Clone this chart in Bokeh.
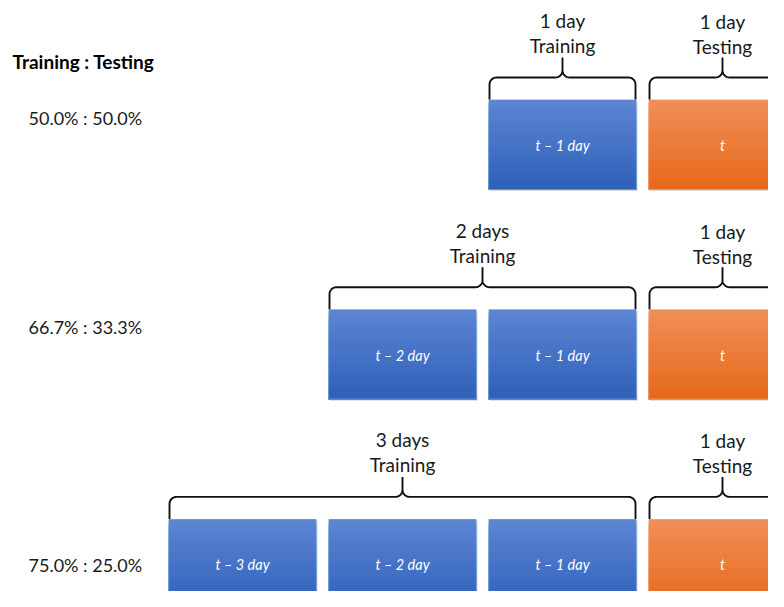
import numpy as np
from bokeh.plotting import figure
from bokeh.models import Range1d
from bokeh.core.properties import value
from bokeh.embed import file_html
from bokeh.resources import INLINE

# ---------------- data ----------------
header = "Training : Testing"
ratio_labels = ["50.0% : 50.0%", "66.7% : 33.3%", "75.0% : 25.0%"]
train_days = [1, 2, 3]
test_days = [1, 1, 1]
train_titles = ["1 day", "2 days", "3 days"]
test_titles = ["1 day", "1 day", "1 day"]
train_word = "Training"
test_word = "Testing"
day_offsets = [-3, -2, -1, 0]          # t-3 .. t
day_labels = ["t – 3 day", "t – 2 day", "t – 1 day", "t"]

# ---------------- layout / style ----------------
FONT = "Lato"
W, H = 768, 591
PX_PER_DAY = 160.0                     # horizontal pitch of one day box
T_CENTER_PX = 722.0                    # x of the "t" box centre
BOX_FRAC = 148.0 / 160.0               # box width as a fraction of the pitch
ROW_TOP0, ROW_PITCH, BOX_H = 99.0, 209.7, 90.0
RATIO_Y = [117, 326, 564]
BLUE_TOP, BLUE_BOT = (93, 134, 210), (46, 96, 186)
ORNG_TOP, ORNG_BOT = (240, 143, 88), (230, 104, 26)

# x in "day" units, y in pixels (inverted)
x0 = (0 - T_CENTER_PX) / PX_PER_DAY
x_range = Range1d(x0, x0 + W / PX_PER_DAY)
y_range = Range1d(H, 0)

p = figure(width=W, height=H, x_range=x_range, y_range=y_range,
           output_backend="svg", toolbar_location=None,
           min_border=0, min_border_left=0, min_border_right=0,
           min_border_top=0, min_border_bottom=0)
p.axis.visible = False
p.grid.visible = False
p.outline_line_color = None
p.background_fill_color = "white"
p.border_fill_color = "white"

px = 1.0 / PX_PER_DAY  # one pixel in x data units
half = BOX_FRAC / 2.0


def hexc(c):
    return "#%02x%02x%02x" % tuple(int(round(v)) for v in c)


def gradient_box(xc, ytop, c_top, c_bot, n=30):
    l, r, t, b, cols = [], [], [], [], []
    for i in range(n):
        f = (i + 0.5) / n
        col = [c_top[k] + (c_bot[k] - c_top[k]) * f for k in range(3)]
        l.append(xc - half)
        r.append(xc + half)
        t.append(ytop + BOX_H * i / n)
        b.append(ytop + BOX_H)          # overlap to the bottom: no seams
        cols.append(hexc(col))
    return l, r, t, b, cols


def brace(xl, xr, xc, yh, ybot, ytip, rx=7 * px, ry=7):
    th = np.linspace(0, np.pi / 2, 10)
    xs, ys = [], []
    xs += [xl]; ys += [ybot]
    xs += list(xl + rx - rx * np.cos(th)); ys += list(yh + ry - ry * np.sin(th))
    xs += list(xc - rx + rx * np.sin(th)); ys += list(yh - ry + ry * np.cos(th))
    xs += [xc]; ys += [ytip]
    xs += list(xc + rx - rx * np.sin(th[::-1])); ys += list(yh - ry + ry * np.cos(th[::-1]))
    xs += list(xr - rx + rx * np.cos(th[::-1])); ys += list(yh + ry - ry * np.sin(th[::-1]))
    xs += [xr]; ys += [ybot]
    return xs, ys


L, R, T, B, C = [], [], [], [], []
bx, by, btxt = [], [], []
outline = dict(l=[], r=[], t=[], b=[])
for i in range(len(ratio_labels)):
    ytop = ROW_TOP0 + ROW_PITCH * i
    nd = train_days[i]
    days = day_offsets[len(day_offsets) - 1 - nd:len(day_offsets) - 1] + [day_offsets[-1]]
    labs = day_labels[len(day_labels) - 1 - nd:len(day_labels) - 1] + [day_labels[-1]]
    for d, lab in zip(days, labs):
        if d < 0:
            l, r, t, b, cols = gradient_box(d, ytop, BLUE_TOP, BLUE_BOT)
        else:
            l, r, t, b, cols = gradient_box(d, ytop, ORNG_TOP, ORNG_BOT)
        L += l; R += r; T += t; B += b; C += cols
        bx.append(d); by.append(ytop + BOX_H / 2 + 1); btxt.append(lab)
        outline["l"].append(d - half); outline["r"].append(d + half)
        outline["t"].append(ytop); outline["b"].append(ytop + BOX_H)

# shadow under boxes
p.quad(left=[v + 1 * px for v in outline["l"]], right=[v + 1 * px for v in outline["r"]],
       top=[v + 1.5 for v in outline["t"]], bottom=[v + 1.5 for v in outline["b"]],
       fill_color="#c9c9c9", line_color=None, fill_alpha=0.7)
p.quad(left=L, right=R, top=T, bottom=B, fill_color=C, line_color=None)
p.quad(left=outline["l"], right=outline["r"], top=outline["t"], bottom=outline["b"],
       fill_color=None, line_color="white", line_alpha=0.3, line_width=1.2)

p.text(x=bx, y=by, text=btxt, text_color="white", text_font=value(FONT),
       text_font_style="italic", text_font_size="14.5px",
       text_align="center", text_baseline="middle")

# braces + labels
lx, ly, ltxt = [], [], []
for i in range(len(ratio_labels)):
    ytop = ROW_TOP0 + ROW_PITCH * i
    nd = train_days[i]
    xl = -nd - half + 1 * px
    xr = -1 + half - 1 * px
    xc = (xl + xr) / 2
    xs, ys = brace(xl, xr, xc, ytop - 22, ytop, ytop - 42)
    p.line(xs, ys, line_color="#111111", line_width=1.9)
    lx += [xc, xc]; ly += [ytop - 79, ytop - 54]; ltxt += [train_titles[i], train_word]
    tl = 0 - half + 1 * px
    tr = 0 + half - 1 * px
    tc = 0.0
    xs, ys = brace(tl, tr, tc, ytop - 22, ytop, ytop - 42)
    p.line(xs, ys, line_color="#111111", line_width=1.9)
    lx += [tc, tc]; ly += [ytop - 78, ytop - 53]; ltxt += [test_titles[i], test_word]

p.text(x=lx, y=ly, text=ltxt, text_color="#1a1a1a", text_font=value(FONT),
       text_font_size="19px", text_align="center", text_baseline="middle")

# left column
left_hdr_x = x0 + 12 * px
left_x = x0 + 28 * px
p.text(x=[left_hdr_x], y=[61], text=[header], text_color="#000000",
       text_font=value(FONT), text_font_style="bold", text_font_size="19px",
       text_align="left", text_baseline="middle")
p.text(x=[left_x] * len(ratio_labels), y=RATIO_Y, text=ratio_labels,
       text_color="#1a1a1a", text_font=value(FONT), text_font_size="18px",
       text_align="left", text_baseline="middle")

open("out.html", "w").write(file_html(p, INLINE))
